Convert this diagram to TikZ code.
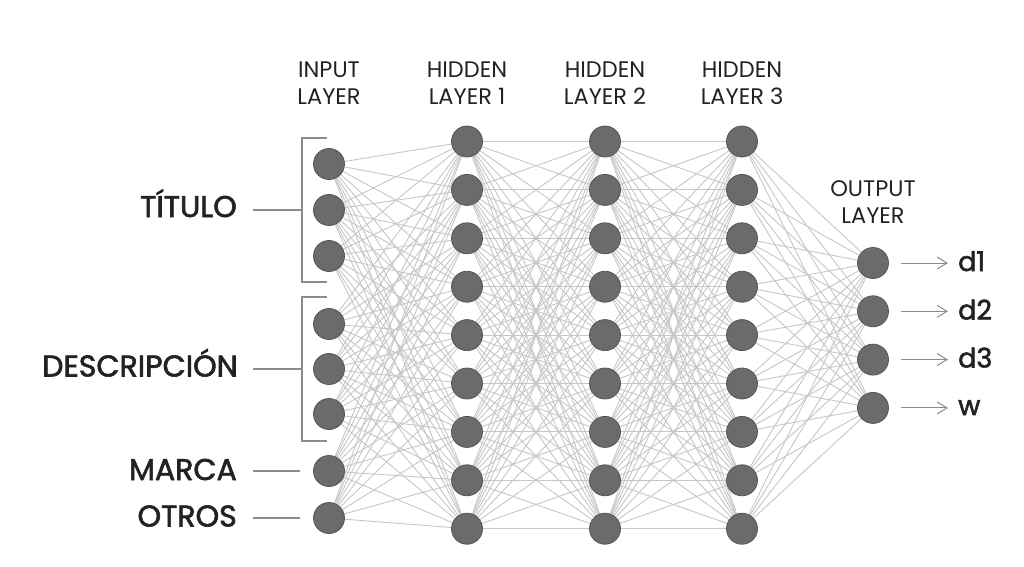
\documentclass[tikz,border=0pt]{standalone}
\usepackage{fontspec}
\setmainfont{Poppins}
\newfontfamily\featfont{Poppins}[FakeBold=2]
\usetikzlibrary{arrows.meta,backgrounds}
\definecolor{nodegray}{HTML}{6A6C6C}
\definecolor{nodeline}{HTML}{545656}
\definecolor{edgegray}{HTML}{C6C6CA}
\definecolor{tickgray}{HTML}{8C8C8C}
\definecolor{textdark}{HTML}{222222}

\begin{document}
\begin{tikzpicture}[x=1pt, y=-1pt,
  neuron/.style={circle, draw=nodeline, fill=nodegray, line width=0.8pt, minimum size=31pt, inner sep=0pt},
  edge/.style={draw=edgegray, line width=0.9pt},
  head/.style={align=center, inner sep=0pt, text=textdark, font=\fontsize{22.5}{27}\selectfont},
  feat/.style={anchor=base east, inner sep=0pt, text=textdark, font=\featfont\fontsize{30}{34}\selectfont},
  outlab/.style={anchor=base west, inner sep=0pt, text=textdark, font=\featfont\fontsize{27}{30}\selectfont},
  tick/.style={draw=tickgray, line width=1.2pt},
  outarrow/.style={-{Straight Barb[length=10pt, width=12pt]}, draw=tickgray, line width=1pt}]

\useasboundingbox (0,0) rectangle (1024,566);

% ---------------- layers
\foreach \y [count=\i] in {164,210,256,324,369,414,471,518}
  \node[neuron] (i\i) at (329,\y) {};
\foreach \l/\x in {a/467,b/605,c/742}
  \foreach \i in {1,...,9}
    \node[neuron] (\l\i) at (\x,{141.5+48.4*(\i-1)}) {};
\foreach \i in {1,...,4}
  \node[neuron] (o\i) at (873,{263+48.3*(\i-1)}) {};

% ---------------- connections
\begin{scope}[on background layer]
\foreach \i in {1,...,8} \foreach \j in {1,...,9} \draw[edge] (i\i) -- (a\j);
\foreach \i in {1,...,9} \foreach \j in {1,...,9} {\draw[edge] (a\i) -- (b\j); \draw[edge] (b\i) -- (c\j);}
\foreach \i in {1,...,9} \foreach \j in {1,...,4} \draw[edge] (c\i) -- (o\j);
\end{scope}

% ---------------- layer titles
\node[head] (hin) at (329,83.5) {INPUT\\LAYER};
\node[head] (ha) at (467,83.5) {HIDDEN\\LAYER 1};
\node[head] (hb) at (605,83.5) {HIDDEN\\LAYER 2};
\node[head] (hc) at (742,83.5) {HIDDEN\\LAYER 3};
\node[head] (hout) at (873,202) {OUTPUT\\LAYER};

% ---------------- input features
\node[feat] (titulo) at (237,217) {TÍTULO};
\node[feat] (desc) at (238,376.5) {DESCRIPCIÓN};
\node[feat] (marca) at (237,480) {MARCA};
\node[feat] (otros) at (237,526.5) {OTROS};
\coordinate (bt) at (302,210);
\coordinate (bd) at (302,369);
\draw[tick] (327,138) -- (302,138) -- (302,282) -- (327,282);
\draw[tick] (327,297) -- (302,297) -- (302,441) -- (327,441);
\draw[tick] ([xshift=16pt]titulo.east |- bt) -- (bt);
\draw[tick] ([xshift=15pt]desc.east |- bd) -- (bd);
\draw[tick] ([xshift=16pt]marca.east |- i7) -- ([xshift=-13pt]i7.west);
\draw[tick] ([xshift=16pt]otros.east |- i8) -- ([xshift=-13pt]i8.west);

% ---------------- outputs
\node[outlab] (d1) at (958,271) {d1};
\node[outlab] (d2) at (958,319.5) {d2};
\node[outlab] (d3) at (958,367.5) {d3};
\node[outlab] (w) at (958,415) {w};
\foreach \i/\n in {1/d1,2/d2,3/d3,4/w}
  \draw[outarrow] ([xshift=12pt]o\i.east) -- ([xshift=-10pt]o\i.east -| \n.west);
\end{tikzpicture}
\end{document}
